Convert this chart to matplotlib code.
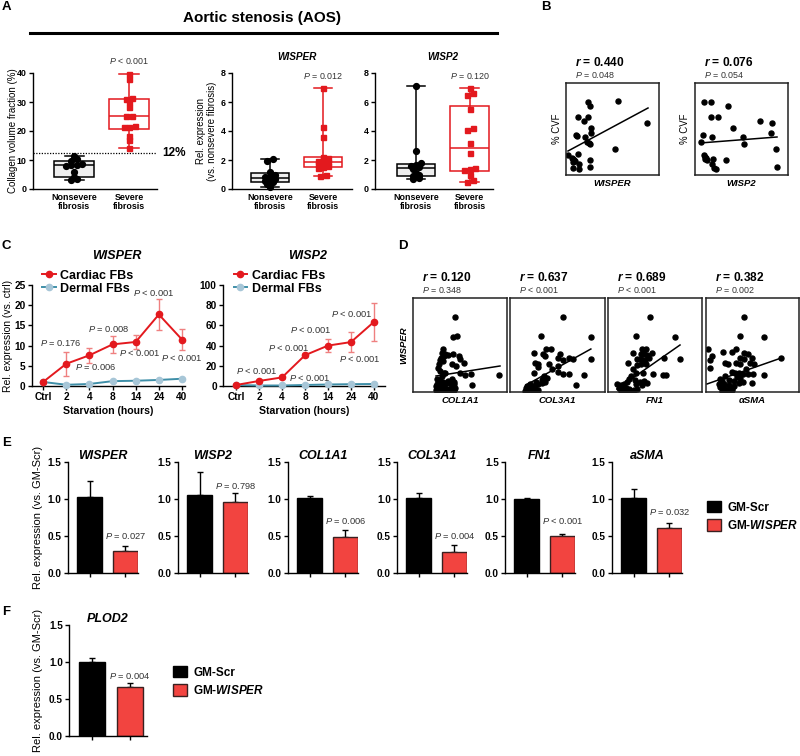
import numpy as np
import matplotlib.pyplot as plt
from matplotlib.lines import Line2D
from matplotlib.patches import Patch

plt.rcParams['font.family'] = ['Liberation Sans', 'DejaVu Sans']
plt.rcParams['mathtext.fontset'] = 'custom'
plt.rcParams['mathtext.rm'] = 'Liberation Sans'
plt.rcParams['mathtext.it'] = 'Liberation Sans:italic'
plt.rcParams['mathtext.bf'] = 'Liberation Sans:bold'
plt.rcParams['mathtext.bfit'] = 'Liberation Sans:bold:italic'
plt.rcParams['axes.linewidth'] = 1.0

# ---- A: aortic stenosis box plots ----
aos_groups = ['Nonsevere\nfibrosis', 'Severe\nfibrosis']
cvf_nonsevere = [3.0, 3.4, 4.1, 6.0, 8.0, 8.2, 8.3, 8.5, 9.6, 10.2, 11.4]
cvf_severe = [14.1, 17.0, 18.2, 21.3, 21.3, 21.6, 25.0, 25.2, 28.3, 30.0, 31.0, 31.3, 38.0, 39.5]
cvf_cutoff = 12.5
wisper_nonsevere = [0.12, 0.35, 0.5, 0.55, 0.65, 0.72, 0.8, 0.9, 1.0, 1.15, 1.9, 2.05]
wisper_severe = [0.9, 1.0, 1.45, 1.5, 1.6, 1.7, 1.8, 1.85, 1.95, 2.05, 2.15, 2.2, 3.6, 4.3, 7.0]
wisp2_nonsevere = [0.68, 0.75, 0.9, 0.95, 1.1, 1.35, 1.5, 1.6, 1.65, 1.78, 2.6, 7.1]
wisp2_severe = [0.5, 0.6, 1.0, 1.3, 1.35, 1.45, 2.45, 3.2, 4.1, 4.2, 5.5, 6.5, 6.6, 6.95]

# ---- B: correlation with %CVF (arbitrary units) ----
b_wisper_x = [22, 24, 52, 12, 22, 18, 81, 25, 25, 10, 11, 19, 23, 21, 24, 49, 2, 12, 6, 7, 8, 9, 7, 13, 24, 7, 13, 24]
b_wisper_y = [73, 69, 74, 58, 58, 54, 52, 47, 42, 40, 39, 38, 32, 33, 31, 26, 20, 21, 17, 16, 15, 14, 13, 11, 15, 7, 6, 8]
b_wisper_fit = ([2, 82], [24, 67])
b_wisp2_x = [9, 16, 33, 16, 23, 65, 77, 38, 8, 17, 48, 76, 6, 49, 81, 9, 10, 11, 10, 12, 18, 31, 17, 19, 21, 82]
b_wisp2_y = [73, 73, 69, 58, 58, 54, 52, 47, 40, 38, 38, 42, 33, 31, 26, 20, 18, 17, 16, 15, 16, 15, 11, 7, 6, 8]
b_wisp2_fit = ([5, 82], [32, 38])

# ---- C: starvation time course ----
starve_labels = ['Ctrl', '2', '4', '8', '14', '24', '40']
wisper_cardiac = [1.0, 5.5, 7.6, 10.3, 10.9, 17.7, 11.5]
wisper_cardiac_err = [0.3, 3.0, 1.8, 2.1, 1.8, 3.8, 2.7]
wisper_dermal = [1.0, 0.3, 0.5, 1.2, 1.3, 1.5, 1.8]
wisp2_cardiac = [1.0, 5.0, 8.5, 30.5, 40.0, 43.5, 63.5]
wisp2_cardiac_err = [0.5, 1.0, 1.2, 2.0, 6.5, 9.8, 19.0]
wisp2_dermal = [1.0, 0.5, 0.5, 1.0, 1.5, 1.8, 2.0]

# ---- D: WISPER vs fibrosis genes (arbitrary units) ----
col1a1_x = [42, 40, 44, 30, 29, 32, 31, 28, 27, 26, 25, 27, 30, 35, 40, 46, 47, 39, 43, 51, 31, 32, 29, 47, 52, 58, 86,
            24, 27, 30, 35, 39, 41, 24, 28, 31, 34, 38, 41, 59, 23, 26, 29, 32, 36, 39, 42, 23, 27, 31, 34, 37, 41, 27]
col1a1_y = [75, 55, 56, 43, 39, 38, 36, 34, 32, 28, 24, 21, 31, 37, 38, 36, 33, 28, 26, 29, 19, 19, 16, 19, 17, 18, 17,
            13, 12, 10, 11, 13, 10, 8, 9, 8, 9, 8, 8, 7, 6, 4, 4, 4, 3, 3, 4, 2, 1, 1, 1, 1, 2, 3]
col1a1_fit = ([23, 87], [16, 26])
col3a1_x = [52, 31, 80, 36, 41, 24, 33, 35, 49, 47, 52, 58, 62, 80, 25, 28, 39, 47, 28, 42, 47, 24, 52,
            58, 73, 34, 37, 32, 35, 26, 28, 65, 20, 23, 17, 16, 19, 23, 25, 15, 18, 22, 25, 28, 32, 33]
col3a1_y = [75, 56, 55, 43, 43, 39, 38, 36, 38, 34, 32, 34, 33, 33, 29, 28, 28, 26, 25, 23, 20, 19, 18,
            18, 17, 16, 14, 12, 10, 10, 8, 7, 8, 6, 6, 4, 3, 3, 4, 1, 1, 1, 1, 2, 9, 13]
col3a1_fit = ([16, 80], [7, 43])
fn1_x = [42, 28, 67, 34, 38, 25, 33, 36, 39, 44, 29, 33, 37, 41, 56, 72, 20, 29, 33, 38, 25, 28, 35, 45,
         55, 58, 23, 21, 27, 32, 36, 39, 19, 16, 28, 34, 9, 13, 11, 14, 18, 21, 13, 16, 19, 23, 26, 29]
fn1_y = [75, 56, 55, 43, 43, 39, 38, 38, 37, 39, 33, 33, 32, 34, 34, 33, 29, 27, 28, 28, 23, 19, 19, 18,
         17, 17, 16, 13, 12, 10, 11, 9, 10, 8, 8, 7, 8, 7, 4, 4, 4, 3, 1, 1, 1, 1, 2, 3]
fn1_fit = ([9, 72], [3, 47])
asma_x = [38, 34, 59, 2, 30, 17, 6, 26, 38, 42, 46, 34, 38, 4, 19, 22, 30, 34, 44, 49, 4, 40, 26, 29, 33, 37,
          42, 48, 59, 19, 31, 34, 14, 16, 23, 28, 33, 37, 46, 13, 18, 23, 28, 14, 18, 23, 26, 16, 19, 23, 26, 76]
asma_y = [75, 56, 55, 43, 43, 40, 36, 40, 39, 38, 34, 34, 33, 32, 29, 28, 29, 28, 29, 28, 24, 23, 20, 19, 19, 18,
          18, 18, 17, 16, 15, 14, 13, 11, 12, 11, 9, 10, 9, 8, 8, 7, 6, 5, 4, 3, 4, 1, 1, 1, 2, 34]
asma_fit = ([1, 76], [8, 34])

# ---- E / F: GapmeR knockdown ----
genes_e = ['WISPER', 'WISP2', 'COL1A1', 'COL3A1', 'FN1', 'aSMA']
scr_mean = [1.03, 1.05, 1.01, 1.01, 1.00, 1.02]
scr_err = [0.21, 0.32, 0.035, 0.07, 0.01, 0.11]
kd_mean = [0.30, 0.955, 0.49, 0.29, 0.50, 0.61]
kd_err = [0.065, 0.13, 0.09, 0.09, 0.03, 0.07]
p_e = ['= 0.027', '= 0.798', '= 0.006', '= 0.004', '< 0.001', '= 0.032']
plod2_mean = [1.0, 0.66]
plod2_err = [0.05, 0.05]

RED = '#e3191e'
ERR_RED = '#ef8080'
TEAL = '#3f8fa8'
TEAL_LIGHT = '#a7c6d7'
BAR_RED = '#f24440'
GRAY = '#333333'
W, H = 800, 756


def rect(x0, y0, x1, y1):
    return [x0 / W, 1 - y1 / H, (x1 - x0) / W, (y1 - y0) / H]


def bold_ticks(ax, size):
    ax.tick_params(labelsize=size, width=1.0, length=3, pad=1.5)
    for lab in ax.get_xticklabels() + ax.get_yticklabels():
        lab.set_fontweight('bold')
    ax.spines['top'].set_visible(False)
    ax.spines['right'].set_visible(False)


def spread(vals, tol, step=0.1):
    v = np.asarray(vals, float)
    order = np.argsort(v)
    offs = np.zeros(len(v))
    groups, grp = [], [order[0]]
    for i in order[1:]:
        if v[i] - v[grp[0]] < tol:
            grp.append(i)
        else:
            groups.append(grp)
            grp = [i]
    groups.append(grp)
    for g in groups:
        offs[g] = (np.arange(len(g)) - (len(g) - 1) / 2) * step
    return offs


def box_panel(ax, groups, tol):
    styles = [('black', '#eeeeee', 'o', 4.2), (RED, 'white', 's', 3.6)]
    for i, vals in enumerate(groups):
        col, face, mk, ms = styles[i]
        v = np.asarray(vals, float)
        q1, med, q3 = np.percentile(v, [25, 50, 75], method='weibull')
        st = dict(med=med, q1=q1, q3=q3, whislo=v.min(), whishi=v.max(), fliers=[])
        ax.bxp([st], positions=[i], widths=0.72, capwidths=0.35, patch_artist=True, showfliers=False,
               boxprops=dict(facecolor=face, edgecolor=col, linewidth=1.1),
               medianprops=dict(color=col, linewidth=1.1),
               whiskerprops=dict(color=col, linewidth=1.1),
               capprops=dict(color=col, linewidth=1.1))
        ax.plot(i + spread(v, tol), v, mk, color=col, ms=ms, ls='none', zorder=4, clip_on=False)


fig = plt.figure(figsize=(8, 7.56), dpi=100)

for lab, x, y in [('A', 2, 7), ('B', 541, 7), ('C', 2, 246), ('D', 398, 246), ('E', 2, 443), ('F', 2, 612)]:
    fig.text(x / W, 1 - y / H, lab, fontsize=9.5, fontweight='bold', ha='left', va='center')

fig.text(262 / W, 1 - 18 / H, 'Aortic stenosis (AOS)', fontsize=11, fontweight='bold', ha='center', va='center')
fig.add_artist(Line2D([30 / W, 497 / W], [1 - 33 / H, 1 - 33 / H], color='black', lw=2.2))

# A1
ax = fig.add_axes(rect(33, 73, 157, 189))
box_panel(ax, [cvf_nonsevere, cvf_severe], tol=1.0)
ax.set_xlim(-0.75, 1.51)
ax.set_ylim(0, 40)
ax.set_yticks([0, 10, 20, 30, 40])
ax.set_xticks([0, 1], aos_groups, linespacing=1.0)
ax.axhline(cvf_cutoff, ls=(0, (1, 1.2)), color='black', lw=0.9, zorder=1)
ax.text(1.045, cvf_cutoff, '12%', transform=ax.get_yaxis_transform(), fontsize=8.5, fontweight='bold', va='center')
ax.text(1, 1.103, '$P$ < 0.001', transform=ax.get_xaxis_transform(), fontsize=6.4, color=GRAY, ha='center', va='center')
ax.set_ylabel('Collagen volume fraction (%)', fontsize=7)
ax.yaxis.set_label_coords(-0.12, 0.5)
bold_ticks(ax, 6.4)
ax.tick_params(axis='x', length=0, pad=3)

# A2, A3
for left, right, xlim, groups, title, ptxt, tol in [
        (232, 352, (-0.72, 1.55), [wisper_nonsevere, wisper_severe], 'WISPER', '= 0.012', 0.2),
        (375, 493, (-0.76, 1.43), [wisp2_nonsevere, wisp2_severe], 'WISP2', '= 0.120', 0.2)]:
    ax = fig.add_axes(rect(left, 73, right, 189))
    box_panel(ax, groups, tol=tol)
    ax.set_xlim(*xlim)
    ax.set_ylim(0, 8)
    ax.set_yticks([0, 2, 4, 6, 8])
    ax.set_xticks([0, 1], aos_groups, linespacing=1.0)
    ax.text(0.5, 1.138, title, transform=ax.get_xaxis_transform(), fontsize=7.2, fontweight='bold',
            fontstyle='italic', ha='center', va='center')
    ax.text(1, 0.974, '$P$ ' + ptxt, transform=ax.get_xaxis_transform(), fontsize=6.4, color=GRAY,
            ha='center', va='center')
    if title == 'WISPER':
        ax.set_ylabel('Rel. expression\n(vs. nonsevere fibrosis)', fontsize=6.9, linespacing=1.1)
        ax.yaxis.set_label_coords(-0.125, 0.5)
    bold_ticks(ax, 6.4)
    ax.tick_params(axis='x', length=0, pad=3)


def corr_panel(ax, x, y, fit, rtxt, ptxt, xlab, lim):
    ax.plot(x, y, 'o', color='black', ms=3.6, ls='none')
    ax.plot(fit[0], fit[1], color='black', lw=1.1)
    ax.set_xlim(0, lim[0])
    ax.set_ylim(0, lim[1])
    ax.set_xticks([])
    ax.set_yticks([])
    for s in ax.spines.values():
        s.set_linewidth(1.1)
        s.set_color('#222222')
    ax.text(0.1, 1.22, '$\\mathbfit{r}$ = ' + rtxt, transform=ax.transAxes, fontsize=8.6,
            fontweight='bold', va='center')
    ax.text(0.1, 1.09, '$P$ ' + ptxt, transform=ax.transAxes, fontsize=6.4, color=GRAY, va='center')
    ax.set_xlabel(xlab, fontsize=6.8, fontweight='bold', fontstyle='italic', labelpad=3)


# B
ax = fig.add_axes(rect(566, 83, 659, 175))
corr_panel(ax, b_wisper_x, b_wisper_y, b_wisper_fit, '0.440', '= 0.048', 'WISPER', (93, 92))
ax.set_ylabel('% CVF', fontsize=6.9)
ax.yaxis.set_label_coords(-0.04, 0.5)
ax = fig.add_axes(rect(695, 83, 788, 175))
corr_panel(ax, b_wisp2_x, b_wisp2_y, b_wisp2_fit, '0.076', '= 0.054', 'WISP2', (93, 92))
ax.set_ylabel('% CVF', fontsize=6.9)
ax.yaxis.set_label_coords(-0.05, 0.5)

# C
c_handles = [Line2D([], [], color=RED, marker='o', ms=4.5, lw=1.4),
             Line2D([], [], color=TEAL, marker='o', ms=4.5, mfc=TEAL_LIGHT, mec=TEAL_LIGHT, lw=1.4)]
c_specs = [
    (rect(32, 285, 185, 386), (-0.48, 6.13), wisper_cardiac, wisper_cardiac_err, wisper_dermal, 25, 5, 'WISPER', 0.556,
     [(0.78, 10.6, '= 0.176'), (2.27, 4.6, '= 0.006'), (2.83, 14.1, '= 0.008'),
      (4.16, 8.1, '< 0.001'), (4.79, 23.1, '< 0.001'), (5.98, 6.9, '< 0.001')]),
    (rect(223, 285, 385, 386), (-0.57, 6.48), wisp2_cardiac, wisp2_cardiac_err, wisp2_dermal, 100, 20, 'WISP2', 0.525,
     [(0.9, 14.9, '< 0.001'), (2.27, 38, '< 0.001'), (3.24, 55.4, '< 0.001'), (3.2, 7.6, '< 0.001'),
      (5.04, 71, '< 0.001'), (5.38, 26.4, '< 0.001')]),
]
for i, (r, xlim, card, card_err, derm, ymax, ystep, title, tx, plist) in enumerate(c_specs):
    ax = fig.add_axes(r)
    x = np.arange(len(starve_labels))
    ax.errorbar(x, card, yerr=card_err, fmt='none', ecolor=ERR_RED, elinewidth=1.0, capsize=2.5, capthick=1.0, zorder=2)
    ax.plot(x, derm, '-o', color=TEAL, mfc=TEAL_LIGHT, mec=TEAL_LIGHT, ms=4.5, lw=1.4, zorder=3, clip_on=False)
    ax.plot(x, card, '-o', color=RED, ms=4.5, lw=1.4, zorder=4, clip_on=False)
    ax.set_xlim(*xlim)
    ax.set_ylim(0, ymax)
    ax.set_yticks(np.arange(0, ymax + 1, ystep))
    ax.set_xticks(x, starve_labels)
    for px, py, t in plist:
        ax.text(px, py, '$P$ ' + t, fontsize=6.7, color=GRAY, ha='center', va='center')
    ax.text(tx, 1.287, title, transform=ax.transAxes, fontsize=9, fontweight='bold', fontstyle='italic',
            ha='center', va='center')
    ax.legend(c_handles, ['Cardiac FBs', 'Dermal FBs'], loc='upper left', bbox_to_anchor=(0.065, 1.15),
              frameon=False, borderpad=0, borderaxespad=0, handlelength=1.1, handletextpad=0.35,
              labelspacing=0.08, prop=dict(size=9, weight='bold'))
    ax.set_xlabel('Starvation (hours)', fontsize=7.6, fontweight='bold', labelpad=3)
    if i == 0:
        ax.set_ylabel('Rel. expression (vs. ctrl)', fontsize=7.5)
        ax.yaxis.set_label_coords(-0.124, 0.5)
    bold_ticks(ax, 7.3)

# D
d_specs = [(413, 507, col1a1_x, col1a1_y, col1a1_fit, '0.120', '= 0.348', 'COL1A1'),
           (510, 605, col3a1_x, col3a1_y, col3a1_fit, '0.637', '< 0.001', 'COL3A1'),
           (608, 702, fn1_x, fn1_y, fn1_fit, '0.689', '< 0.001', 'FN1'),
           (706, 799, asma_x, asma_y, asma_fit, '0.382', '= 0.002', 'αSMA')]
for i, (l, rr, x, y, fit, rt, pt, lab) in enumerate(d_specs):
    ax = fig.add_axes(rect(l, 298, rr, 392))
    corr_panel(ax, x, y, fit, rt, pt, lab, (94, 94))
    ax.texts[0].set_position((0.096, 1.213))
    ax.texts[1].set_position((0.096, 1.085))
    if i == 0:
        ax.set_ylabel('WISPER', fontsize=6.8, fontweight='bold', fontstyle='italic')
        ax.yaxis.set_label_coords(-0.045, 0.5)


def bar_panel(ax, means, errs, title, ptxt, py, xlim):
    ax.bar([0, 1], means, width=0.7, color=['black', BAR_RED], edgecolor=['black', '#3a2020'], linewidth=1.0, zorder=2)
    ax.errorbar([0, 1], means, yerr=[[0, 0], errs], fmt='none', ecolor='black', elinewidth=1.0,
                capsize=2.5, capthick=1.0, zorder=1)
    ax.set_xlim(*xlim)
    ax.set_ylim(0, 1.5)
    ax.set_yticks([0, 0.5, 1.0, 1.5], ['0.0', '0.5', '1.0', '1.5'])
    ax.set_xticks([0, 1], ['', ''])
    ax.set_title(title, fontsize=9, fontweight='bold', fontstyle='italic', pad=0)
    ax.text(1, py, '$P$ ' + ptxt, fontsize=6.7, color=GRAY, ha='center', va='center')
    bold_ticks(ax, 7.2)


e_lefts = [68, 178, 288, 397, 505, 612]
e_py = [0.50, 1.175, 0.70, 0.50, 0.70, 0.83]
for i, g in enumerate(genes_e):
    ax = fig.add_axes(rect(e_lefts[i], 462, e_lefts[i] + 70, 573))
    bar_panel(ax, [scr_mean[i], kd_mean[i]], [scr_err[i], kd_err[i]], g, p_e[i], e_py[i], (-0.6, 1.35))
    if i == 0:
        ax.set_ylabel('Rel. expression (vs. GM-Scr)', fontsize=8)
        ax.yaxis.set_label_coords(-0.36, 0.5)

leg_handles = [Patch(facecolor='black', edgecolor='black'), Patch(facecolor=BAR_RED, edgecolor='#3a2020')]
leg_labels = ['GM-Scr', 'GM-$\\mathbfit{WISPER}$']
fig.legend(leg_handles, leg_labels, loc='upper left', bbox_to_anchor=(707 / W, 1 - 501 / H), frameon=False,
           borderpad=0, borderaxespad=0, handlelength=1.15, handleheight=1.1, handletextpad=0.55,
           labelspacing=0.45, prop=dict(size=8.5, weight='bold'))

# F
ax = fig.add_axes(rect(69, 625, 147, 736))
bar_panel(ax, plod2_mean, plod2_err, 'PLOD2', '= 0.004', 0.815, (-0.6, 1.45))
ax.set_ylabel('Rel. expression (vs. GM-Scr)', fontsize=8)
ax.yaxis.set_label_coords(-0.33, 0.5)
fig.legend(leg_handles, leg_labels, loc='upper left', bbox_to_anchor=(173 / W, 1 - 666 / H), frameon=False,
           borderpad=0, borderaxespad=0, handlelength=1.15, handleheight=1.1, handletextpad=0.55,
           labelspacing=0.45, prop=dict(size=8.5, weight='bold'))

fig.savefig('out.png', dpi=100, facecolor='white')
